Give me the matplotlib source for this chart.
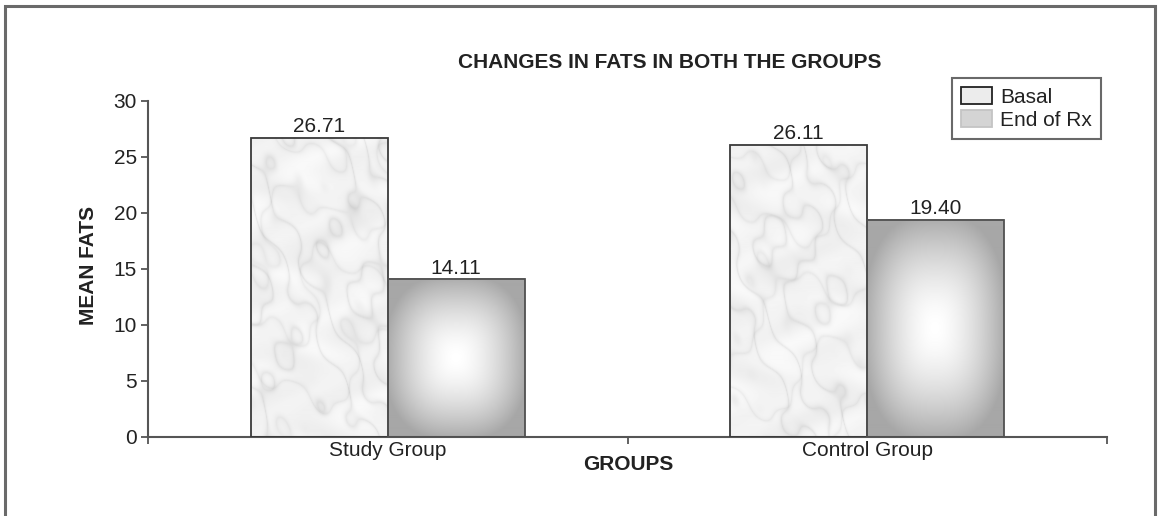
import numpy as np
import matplotlib
matplotlib.use("Agg")
import matplotlib.pyplot as plt
from matplotlib.patches import Rectangle, Patch

# Mean fats per group, before and after treatment
groups = ["Study Group", "Control Group"]
series_names = ["Basal", "End of Rx"]
basal = [26.71, 26.11]
end_rx = [14.11, 19.40]
y_ticks = [0, 5, 10, 15, 20, 25, 30]

plt.rcParams['font.family'] = ['Liberation Sans', 'DejaVu Sans']
FS = 15

W, H = 1160, 516
fig = plt.figure(figsize=(W / 100, H / 100), dpi=100)

# outer frame around the whole chart
fig.patches.append(Rectangle((5 / W, -0.02), 1150 / W, 1 - 6 / H + 0.02,
                             transform=fig.transFigure, fill=False,
                             edgecolor='#6a6a6a', lw=2.2))

ax = fig.add_axes([148 / W, 1 - 437 / H, 959 / W, 336 / H])


def marble(h, w, phase):
    yy, xx = np.mgrid[0:h, 0:w].astype(float)
    turb = (1.8 * np.sin(xx / 23 + yy / 37 + phase)
            + 0.9 * np.sin(xx / 11 - yy / 17 + 2 * phase)
            + 0.4 * np.sin(xx / 5.3 + yy / 7.1 + phase))
    veins = np.abs(np.sin((xx * 0.6 + yy * 0.25) / 9 + turb))
    veins2 = np.abs(np.sin((xx * 0.2 - yy * 0.5) / 13 + 0.7 * turb + 1.3))
    cloud = 0.5 + 0.5 * np.sin(xx / 17 + np.sin(yy / 13 + phase) * 2.0) * np.sin(yy / 29 - xx / 41)
    val = (0.975 - 0.07 * (1 - veins) ** 4 - 0.05 * (1 - veins2) ** 5
           - 0.045 * cloud)
    return np.clip(val, 0, 1)


def glow(h, w):
    v, u = np.mgrid[-1:1:h * 1j, -1:1:w * 1j]
    r = (np.abs(u) ** 2.6 + np.abs(v) ** 2.6) ** (1 / 2.6)
    t = np.clip(r, 0, 1.05) ** 1.6
    return 1 - 0.32 * t


x = np.arange(len(groups))
w = 0.2857
b1 = ax.bar(x - w / 2, basal, w, facecolor='none', edgecolor='#3a3a3a', lw=1.3, zorder=3,
            label=series_names[0])
b2 = ax.bar(x + w / 2, end_rx, w, facecolor='none', edgecolor='#505050', lw=1.3, zorder=3,
            label=series_names[1])

for i, rect in enumerate(b1.patches):
    x0, h_ = rect.get_x(), rect.get_height()
    img = marble(int(h_ * 11.2), 137, phase=1.7 * i)
    ax.imshow(img, cmap='gray', vmin=0, vmax=1, extent=(x0, x0 + w, 0, h_),
              origin='lower', aspect='auto', zorder=2, interpolation='bilinear')
for rect in b2.patches:
    x0, h_ = rect.get_x(), rect.get_height()
    img = glow(int(h_ * 11.2), 137)
    ax.imshow(img, cmap='gray', vmin=0, vmax=1, extent=(x0, x0 + w, 0, h_),
              origin='lower', aspect='auto', zorder=2, interpolation='bilinear')

ax.bar_label(b1, labels=[f"{v:.2f}" for v in basal], padding=1, fontsize=FS, color='#222')
ax.bar_label(b2, labels=[f"{v:.2f}" for v in end_rx], padding=1, fontsize=FS, color='#222')

ax.set_xlim(-0.5, len(groups) - 0.5)
ax.set_ylim(0, 30)
ax.set_yticks(y_ticks)
ax.set_yticklabels([str(t) for t in y_ticks], fontsize=FS, color='#222')
ax.set_xticks(x)
ax.set_xticklabels(groups, fontsize=FS, color='#222')
ax.set_xticks(np.arange(len(groups) + 1) - 0.5, minor=True)
ax.tick_params(axis='x', which='major', length=0, pad=3)
ax.tick_params(axis='x', which='minor', length=5, width=1.3, color='#555', direction='out')
ax.tick_params(axis='y', length=5, width=1.3, color='#555', direction='out', pad=3)

for s in ('top', 'right'):
    ax.spines[s].set_visible(False)
for s in ('left', 'bottom'):
    ax.spines[s].set_color('#555')
    ax.spines[s].set_linewidth(1.5)

fig.text(670 / W, 1 - 62 / H, "CHANGES IN FATS IN BOTH THE GROUPS", ha='center', va='center',
         fontsize=FS, fontweight='bold', color='#222')
fig.text(628 / W, 1 - 465 / H, "GROUPS", ha='center', va='center',
         fontsize=FS, fontweight='bold', color='#222')
fig.text(88 / W, 1 - 265 / H, "MEAN FATS", ha='center', va='center', rotation=90,
         fontsize=FS, fontweight='bold', color='#222')

handles = [Patch(facecolor='#ececec', edgecolor='#222', lw=1.3),
           Patch(facecolor='#d4d4d4', edgecolor='#c4c4c4', lw=1.3)]
leg = fig.legend(handles, series_names, loc='upper left',
                 bbox_to_anchor=(952 / W, 1 - 78 / H), fontsize=FS, frameon=True,
                 fancybox=False, borderpad=0.45, handlelength=1.45, handleheight=0.85,
                 handletextpad=0.4, labelspacing=0.15, borderaxespad=0)
leg.get_frame().set_edgecolor('#444')
leg.get_frame().set_linewidth(1.5)
for t in leg.get_texts():
    t.set_color('#222')

fig.savefig("out.png", dpi=100, facecolor='white')
